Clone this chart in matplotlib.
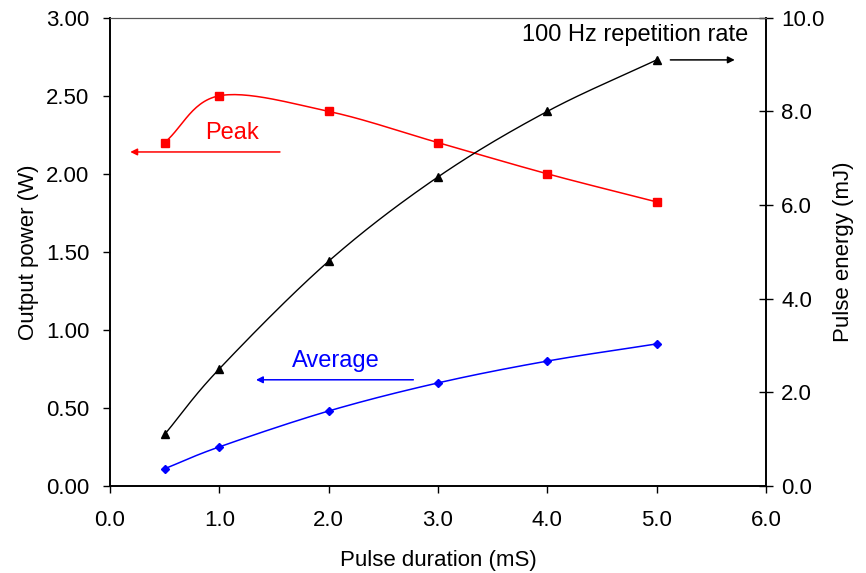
import numpy as np
import matplotlib
matplotlib.use("Agg")
import matplotlib.pyplot as plt

plt.rcParams['font.family'] = ['Liberation Sans', 'DejaVu Sans']

# data
duration = [0.5, 1.0, 2.0, 3.0, 4.0, 5.0]          # mS
peak_w = [2.20, 2.50, 2.40, 2.20, 2.00, 1.82]       # W
avg_w = [0.11, 0.25, 0.48, 0.66, 0.80, 0.91]        # W
energy_mj = [1.1, 2.5, 4.8, 6.6, 8.0, 9.1]          # mJ

x_ticks = [0.0, 1.0, 2.0, 3.0, 4.0, 5.0, 6.0]
left_ticks = [0.0, 0.5, 1.0, 1.5, 2.0, 2.5, 3.0]
right_ticks = [0.0, 2.0, 4.0, 6.0, 8.0, 10.0]


def smooth(xs, ys, n=30):
    # Catmull-Rom style curve through the points, like Excel's "smoothed line"
    p = np.column_stack([xs, ys]).astype(float)
    p = np.vstack([2 * p[0] - p[1], p, 2 * p[-1] - p[-2]])
    out = []
    t = np.linspace(0, 1, n)[:, None]
    for i in range(1, len(p) - 2):
        p0, p1, p2, p3 = p[i - 1], p[i], p[i + 1], p[i + 2]
        c1 = p1 + (p2 - p0) / 6.0
        c2 = p2 - (p3 - p1) / 6.0
        seg = ((1 - t) ** 3) * p1 + 3 * ((1 - t) ** 2) * t * c1 + 3 * (1 - t) * t ** 2 * c2 + t ** 3 * p2
        out.append(seg)
    out = np.vstack(out)
    return out[:, 0], out[:, 1]


fig = plt.figure(figsize=(8.66, 5.73), dpi=100)
ax = fig.add_axes([0.127, 0.152, 0.7575, 0.817])
ax2 = ax.twinx()

sx, sy = smooth(duration, peak_w)
ax.plot(sx, sy, color='red', lw=1.1)
ax.plot(duration, peak_w, 's', color='red', ms=6)

sx, sy = smooth(duration, avg_w)
ax.plot(sx, sy, color='blue', lw=1.1)
ax.plot(duration, avg_w, 'D', color='blue', ms=4.5)

sx, sy = smooth(duration, energy_mj)
ax2.plot(sx, sy, color='black', lw=1.0)
ax2.plot(duration, energy_mj, '^', color='black', ms=6)

ax.set_xlim(0, 6)
ax.set_ylim(0, 3)
ax2.set_ylim(0, 10)
ax.set_xticks(x_ticks)
ax.set_xticklabels(['%.1f' % v for v in x_ticks])
ax.set_yticks(left_ticks)
ax.set_yticklabels(['%.2f' % v for v in left_ticks])
ax2.set_yticks(right_ticks)
ax2.set_yticklabels(['%.1f' % v for v in right_ticks])

fs = 16
ax.tick_params(axis='both', direction='out', length=5, labelsize=fs, width=1)
ax.tick_params(axis='y', pad=10)
ax.tick_params(axis='x', pad=12)
ax2.tick_params(axis='y', direction='inout', length=10, labelsize=fs, width=1, pad=6)

ax.set_xlabel('Pulse duration (mS)', fontsize=fs, labelpad=14)
ax.set_ylabel('Output power (W)', fontsize=fs, labelpad=5)
ax2.set_ylabel('Pulse energy (mJ)', fontsize=fs, labelpad=6)

for s in ['left', 'right', 'bottom']:
    ax.spines[s].set_linewidth(1.2)
    ax2.spines[s].set_linewidth(1.2)
ax.spines['top'].set_color('#555555')
ax2.spines['top'].set_color('#555555')

# annotations
ax.annotate('', xy=(0.16, 2.14), xytext=(1.58, 2.14),
            arrowprops=dict(arrowstyle='-|>', color='red', lw=1.1, mutation_scale=10))
ax.text(1.12, 2.26, 'Peak', color='red', fontsize=17, ha='center', va='center')

ax.annotate('', xy=(1.31, 0.68), xytext=(2.80, 0.68),
            arrowprops=dict(arrowstyle='-|>', color='blue', lw=1.1, mutation_scale=10))
ax.text(2.07, 0.80, 'Average', color='blue', fontsize=17, ha='center', va='center')

ax.annotate('', xy=(5.74, 2.73), xytext=(5.10, 2.73),
            arrowprops=dict(arrowstyle='-|>', color='black', lw=1.1, mutation_scale=10))
ax.text(4.80, 2.89, '100 Hz repetition rate', color='black', fontsize=17, ha='center', va='center')

fig.savefig('out.png', dpi=100)
